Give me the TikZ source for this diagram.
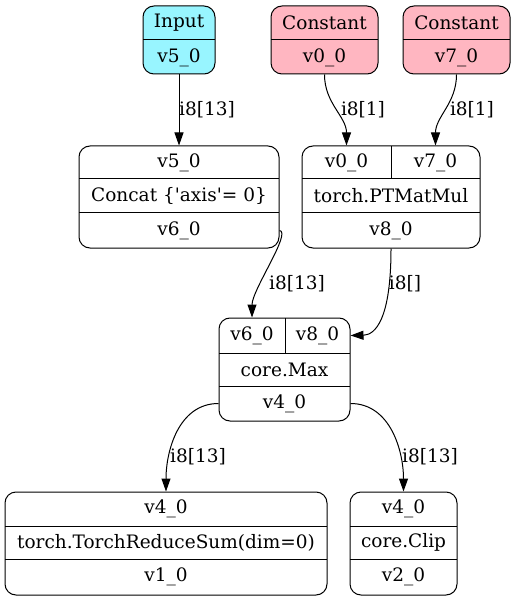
\documentclass[tikz,border=0pt]{standalone}
\usepackage{fontspec}
\setmainfont{DejaVu Serif}
\usetikzlibrary{arrows.meta}
\definecolor{inputc}{HTML}{98F5FF}
\definecolor{constc}{HTML}{FFB6C1}
\begin{document}
\begin{tikzpicture}[x=1pt,y=-1pt,
  rec/.style={draw, line width=1pt, rounded corners=11pt, inner sep=0pt, anchor=center},
  txt/.style={inner sep=0pt, anchor=center, font=\fontsize{18.5}{22}\selectfont},
  lbl/.style={inner sep=0pt, anchor=center, font=\fontsize{18.5}{22}\selectfont},
  edge/.style={draw, line width=1pt, -{Triangle[length=13pt,width=9pt]}}]
\useasboundingbox (0,0) rectangle (516,601);
% Input
\node[rec, fill=inputc, minimum width=72pt, minimum height=68pt] (in) at (179,40) {};
\draw[line width=1pt] (143,40) -- (215,40);
\node[txt] (inA) at (179,23) {Input};
\node[txt] (inB) at (179,57.5) {v5\_0};
% Constant 1
\node[rec, fill=constc, minimum width=107pt, minimum height=68pt] (c1) at (324.5,40) {};
\draw[line width=1pt] (271,40) -- (378,40);
\node[txt] (c1A) at (324.5,23) {Constant};
\node[txt] (c1B) at (324.5,57.5) {v0\_0};
% Constant 2
\node[rec, fill=constc, minimum width=107pt, minimum height=68pt] (c2) at (456.5,40) {};
\draw[line width=1pt] (403,40) -- (510,40);
\node[txt] (c2A) at (456.5,23) {Constant};
\node[txt] (c2B) at (456.5,57.5) {v7\_0};
% Concat
\node[rec, minimum width=200pt, minimum height=102pt] (cc) at (179,197) {};
\draw[line width=1pt] (79,179) -- (279,179);
\draw[line width=1pt] (79,213) -- (279,213);
\node[txt] (ccA) at (179,162.5) {v5\_0};
\node[txt] (ccB) at (179,196) {Concat \{\textquotesingle axis\textquotesingle = 0\}};
\node[txt] (ccC) at (179,230.5) {v6\_0};
% PTMatMul
\node[rec, minimum width=178pt, minimum height=102pt] (pt) at (391,197) {};
\draw[line width=1pt] (302,179) -- (480,179);
\draw[line width=1pt] (302,213) -- (480,213);
\draw[line width=1pt] (391,146) -- (391,179);
\node[txt] (ptA) at (346.5,162.5) {v0\_0};
\node[txt] (ptB) at (435.5,162.5) {v7\_0};
\node[txt] (ptC) at (391,196) {torch.PTMatMul};
\node[txt] (ptD) at (391,230.5) {v8\_0};
% Max
\node[rec, minimum width=131pt, minimum height=103pt] (mx) at (284.5,369.5) {};
\draw[line width=1pt] (219,353) -- (350,353);
\draw[line width=1pt] (219,386) -- (350,386);
\draw[line width=1pt] (285,318) -- (285,353);
\node[txt] (mxA) at (252,335.5) {v6\_0};
\node[txt] (mxB) at (317.5,335.5) {v8\_0};
\node[txt] (mxC) at (284.5,369.5) {core.Max};
\node[txt] (mxD) at (284.5,403.5) {v4\_0};
% ReduceSum
\node[rec, minimum width=322pt, minimum height=103pt] (rs) at (166,543.5) {};
\draw[line width=1pt] (5,526) -- (327,526);
\draw[line width=1pt] (5,559) -- (327,559);
\node[txt] (rsA) at (166,509) {v4\_0};
\node[txt] (rsB) at (166,542.5) {torch.TorchReduceSum(dim=0)};
\node[txt] (rsC) at (166,577) {v1\_0};
% Clip
\node[rec, minimum width=107pt, minimum height=103pt] (cl) at (403.5,543.5) {};
\draw[line width=1pt] (350,526) -- (457,526);
\draw[line width=1pt] (350,559) -- (457,559);
\node[txt] (clA) at (403.5,509) {v4\_0};
\node[txt] (clB) at (403.5,542.5) {core.Clip};
\node[txt] (clC) at (403.5,577) {v2\_0};
% edges
\draw[edge] (in.south) -- (cc.north);
\draw[edge] (c1.south) to[out=-90,in=90] (ptA |- pt.north);
\draw[edge] (c2.south) to[out=-90,in=90] (ptB |- pt.north);
\draw[edge] (ccC -| cc.east) .. controls (292,232) and (252,290) .. (mxA |- mx.north);
\draw[edge] (pt.south) .. controls (391,320) and (375,335) .. (mxB -| mx.east);
\draw[edge] (mxD -| mx.west) to[out=180,in=90] (rsA |- rs.north);
\draw[edge] (mxD -| mx.east) to[out=0,in=90] (clA |- cl.north);
% labels
\node[lbl] (l1) at (207,110) {i8[13]};
\node[lbl] (l2) at (363,110) {i8[1]};
\node[lbl] (l3) at (472,110) {i8[1]};
\node[lbl] (l4) at (297,284) {i8[13]};
\node[lbl] (l5) at (405,284) {i8[]};
\node[lbl] (l6) at (198,457) {i8[13]};
\node[lbl] (l7) at (430,457) {i8[13]};
\end{tikzpicture}
\end{document}
